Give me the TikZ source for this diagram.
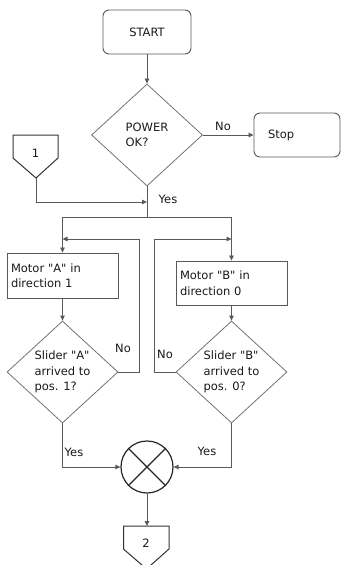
\documentclass[tikz,border=0pt]{standalone}
\usepackage{fontspec}
\setmainfont{DejaVu Sans}
\setmonofont{DejaVu Sans}
\usetikzlibrary{shapes.geometric,arrows.meta}
\newcommand{\qq}{{\ttfamily\symbol{34}}}
\tikzset{
  base/.style={font=\fontsize{11.5}{15.5}\selectfont, text=black!90},
  rbox/.style={base, draw=black!65, line width=0.9pt, rounded corners=6pt, inner sep=0pt},
  pbox/.style={base, draw=black!65, line width=0.9pt, inner sep=0pt},
  dec/.style={base, draw=black!55, line width=0.8pt, diamond, inner sep=0pt, align=left},
  conn/.style={draw=black!65, line width=0.8pt},
  arr/.style={conn, -{Triangle[length=5pt,width=4.5pt]}},
  lbl/.style={base, inner sep=0pt},
  offp/.style={draw=black!80, line width=1pt}
}
\begin{document}
\begin{tikzpicture}[x=1pt,y=-1pt]
\useasboundingbox (0,0) rectangle (341,565);
% nodes
\node[rbox, minimum width=88pt, minimum height=44pt] (start) at (147,32) {START};
\node[dec, minimum width=111pt, minimum height=102pt, aspect=1.09] (power) at (147,135) {POWER\\OK?};
\node[rbox, minimum width=86pt, minimum height=44pt, text width=58pt, inner xsep=14pt, align=left] (stop) at (297,135) {Stop};
\node[pbox, minimum width=111pt, minimum height=45pt, text width=103pt, inner xsep=4pt, align=left] (ma) at (62.5,275.5) {Motor \qq A\qq\ in\\direction 1};
\node[pbox, minimum width=111pt, minimum height=44pt, text width=103pt, inner xsep=4pt, align=left] (mb) at (231.5,283) {Motor \qq B\qq\ in\\direction 0};
\node[dec, minimum width=111pt, minimum height=102pt, aspect=1.09] (da) at (62.5,372) {Slider \qq A\qq\\arrived to\\pos. 1?};
\node[dec, minimum width=111pt, minimum height=102pt, aspect=1.09] (db) at (231.5,372) {Slider \qq B\qq\\arrived to\\pos. 0?};
\node[circle, draw=black!85, line width=1.2pt, minimum size=52pt, inner sep=0pt] (sum) at (147,467) {};
\draw[draw=black!85, line width=1.2pt] (sum.north east) -- (sum.south west) (sum.north west) -- (sum.south east);
% off-page connectors
\draw[offp] (13,135) -- (58,135) -- (58,158) -- (36,178) -- (13,158) -- cycle;
\node[lbl] (c1) at (35.5,153) {1};
\coordinate (c1tip) at (36,178);
\draw[offp] (123.5,526) -- (169,526) -- (169,549) -- (146.5,569) -- (123.5,549) -- cycle;
\node[lbl] (c2) at (146,543) {2};
\coordinate (c2top) at (147,526);
% junction coordinates
\coordinate (j1) at (147,202);
\coordinate (split) at (147,217);
\coordinate (la) at (62.5,239);
\coordinate (lb) at (231.5,239);
% connectors
\draw[arr] (start) -- (power);
\draw[arr] (power.east) -- (stop.west);
\node[lbl] (no0) at (223,126) {No};
\draw[arr] (c1tip) |- (j1);
\draw[conn] (power.south) -- (split);
\node[lbl] (yes0) at (168,199) {Yes};
\draw[arr] (split) -| (ma.north);
\draw[arr] (split) -| (mb.north);
\draw[arr] (ma) -- (da);
\draw[arr] (mb) -- (db);
\draw[arr] (da.east) -| (139,239) -- (la);
\draw[arr] (db.west) -| (154,239) -- (lb);
\node[lbl] (no1) at (123,348) {No};
\node[lbl] (no2) at (165,354) {No};
\draw[arr] (da.south) |- (sum.west);
\draw[arr] (db.south) |- (sum.east);
\node[lbl] (yes1) at (74,452) {Yes};
\node[lbl] (yes2) at (207,451) {Yes};
\draw[arr] (sum.south) -- (c2top);
\end{tikzpicture}
\end{document}
